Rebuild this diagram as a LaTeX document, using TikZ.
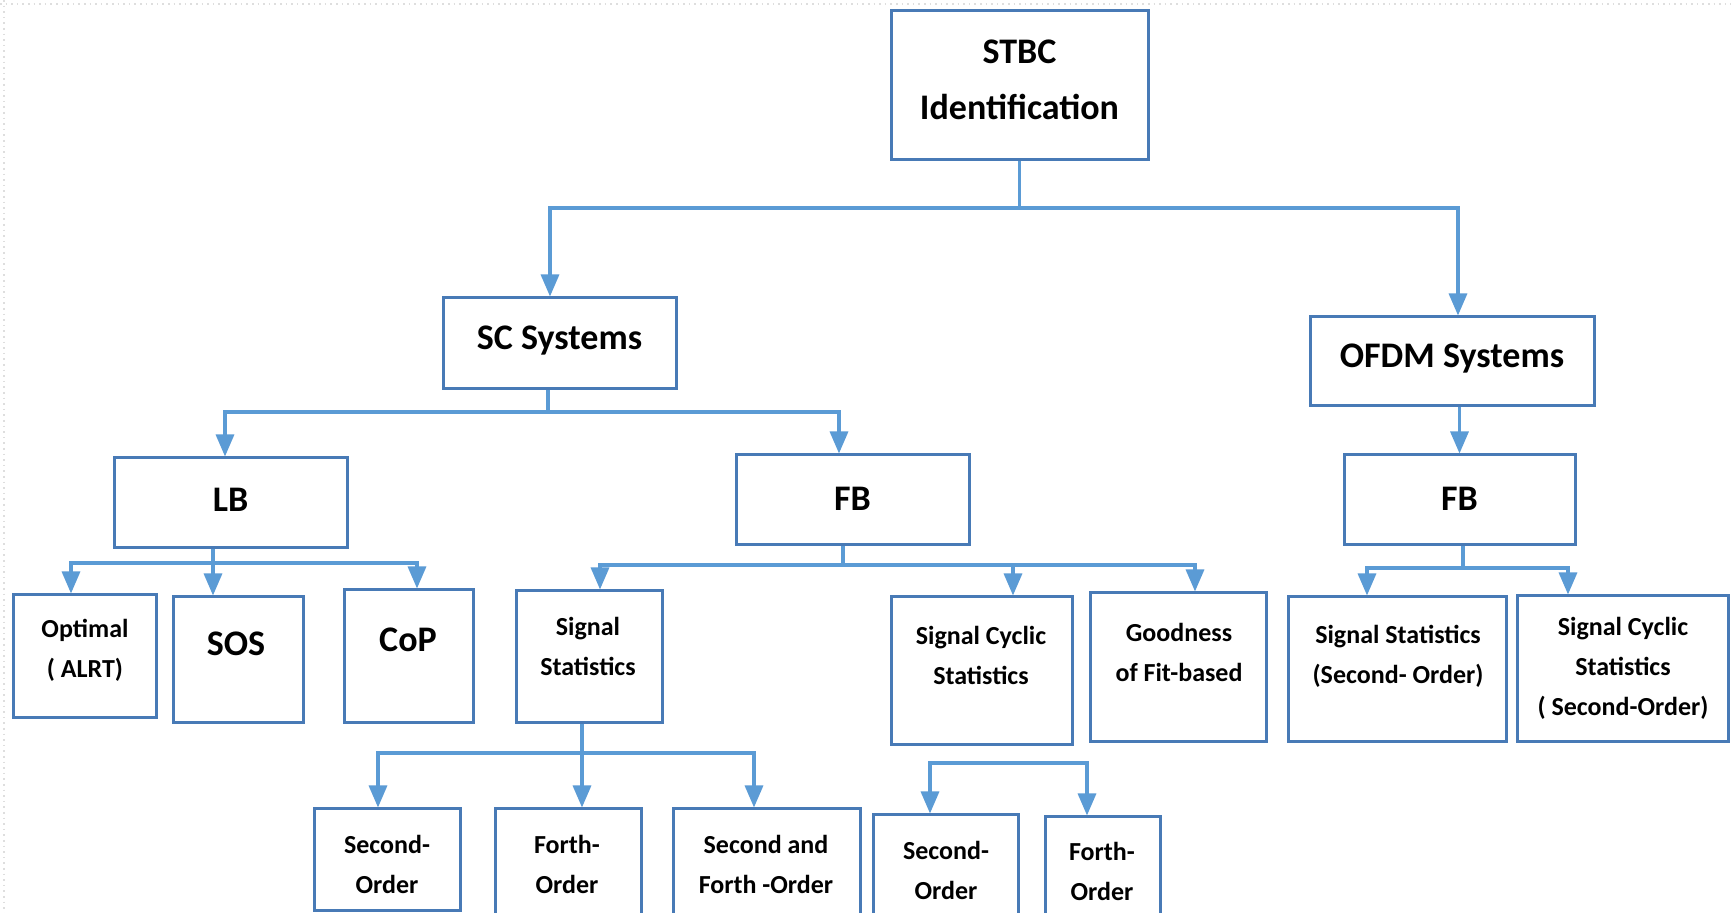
\documentclass[tikz,border=0pt]{standalone}
\usepackage{fontspec}
\setmainfont{Carlito}
\usetikzlibrary{arrows.meta}
\definecolor{boxc}{RGB}{72,122,182}
\definecolor{linec}{RGB}{91,155,213}
\definecolor{framec}{RGB}{222,222,222}
\tikzset{
  box/.style={draw=boxc, line width=1.5pt, inner sep=0pt},
  ln/.style={draw=linec, line width=1.6pt},
  ar/.style={ln, -{Triangle[width=9pt,length=11pt]}},
  big/.style={font=\fontsize{18}{28}\selectfont\bfseries, align=center, inner sep=0pt},
  sm/.style={font=\fontsize{13}{20}\selectfont\bfseries, align=center, inner sep=0pt},
}
\begin{document}
\begin{tikzpicture}[x=0.5pt, y=-0.5pt]
\useasboundingbox (0,0) rectangle (1731,913);
\fill[white] (0,0) rectangle (1731,913);
\draw[framec, line width=0.8pt, dotted] (0,4) -- (1731,4);
\draw[framec, line width=0.8pt, dotted] (4,0) -- (4,913);

% boxes
\node[box, minimum width=128.5pt, minimum height=74.5pt] (stbc) at (1019.5,85.5) {};
\node[box, minimum width=116.5pt, minimum height=45.5pt] (sc) at (559.5,343.5) {};
\node[box, minimum width=142pt, minimum height=44.5pt] (ofdm) at (1452,361.5) {};
\node[box, minimum width=116.5pt, minimum height=45pt] (lb) at (230.5,503) {};
\node[box, minimum width=116.5pt, minimum height=45pt] (fb1) at (852.5,500) {};
\node[box, minimum width=115.5pt, minimum height=45pt] (fb2) at (1459.5,500) {};
\node[box, minimum width=71.5pt, minimum height=61.5pt] (opt) at (84.5,656.5) {};
\node[box, minimum width=65pt, minimum height=63pt] (sos) at (238,660) {};
\node[box, minimum width=64.5pt, minimum height=66.5pt] (cop) at (408.5,656.5) {};
\node[box, minimum width=73pt, minimum height=66pt] (sst) at (589,657) {};
\node[box, minimum width=90.5pt, minimum height=74pt] (scs) at (981.5,671) {};
\node[box, minimum width=88pt, minimum height=74.5pt] (gof) at (1178,667.5) {};
\node[box, minimum width=109pt, minimum height=72.5pt] (ss2) at (1397,669.5) {};
\node[box, minimum width=105.5pt, minimum height=73pt] (scs2) at (1622.5,669) {};
\node[box, minimum width=73pt, minimum height=51pt] (so1) at (387,860) {};
\node[box, minimum width=73pt, minimum height=60.5pt] (fo1) at (568,869.5) {};
\node[box, minimum width=93.5pt, minimum height=60.5pt] (sfo) at (766.5,869.5) {};
\node[box, minimum width=72.5pt, minimum height=57.5pt] (so2) at (945.5,872.5) {};
\node[box, minimum width=57.5pt, minimum height=56.5pt] (fo2) at (1102.5,873.5) {};

% texts
\node[big] (t-stbc) at (1019.5,80) {STBC\\Identification};
\node[big] (t-sc) at (559.5,341) {SC Systems};
\node[big] (t-ofdm) at (1452,359) {OFDM Systems};
\node[big] (t-lb) at (230.5,500) {LB};
\node[big] (t-fb1) at (852.5,499) {FB};
\node[big] (t-fb2) at (1459.5,499) {FB};
\node[sm] (t-opt) at (85,650) {Optimal\\( ALRT)};
\node[big] (t-sos) at (236,644) {SOS};
\node[big] (t-cop) at (408,640) {CoP};
\node[sm] (t-sst) at (588,646) {Signal\\Statistics};
\node[sm] (t-scs) at (981,655) {Signal Cyclic\\Statistics};
\node[sm] (t-gof) at (1179,652) {Goodness\\of Fit-based};
\node[sm] (t-ss2) at (1398,656) {Signal Statistics\\(Second- Order)};
\node[sm] (t-scs2) at (1623,668) {Signal Cyclic\\Statistics\\( Second-Order)};
\node[sm] (t-so1) at (387,864) {Second-\\Order};
\node[sm] (t-fo1) at (567,864) {Forth-\\Order};
\node[sm] (t-sfo) at (766,864) {Second and\\Forth -Order};
\node[sm] (t-so2) at (946,870) {Second-\\Order};
\node[sm] (t-fo2) at (1102,871) {Forth-\\Order};

% junction points
\coordinate (j0a) at (550,208);
\coordinate (j0b) at (1458,208);
\coordinate (j1) at (548,412);
\coordinate (j1a) at (225,412);
\coordinate (j1b) at (839,412);
\coordinate (j2) at (213,563);
\coordinate (j2a) at (71,563);
\coordinate (j2b) at (417,563);
\coordinate (j3) at (843,565);
\coordinate (j3a) at (600,565);
\coordinate (j3b) at (1013,565);
\coordinate (j3c) at (1195,565);
\coordinate (j4) at (1463,568);
\coordinate (j4a) at (1367,568);
\coordinate (j4b) at (1568,568);
\coordinate (j5) at (582,753);
\coordinate (j5a) at (378,753);
\coordinate (j5b) at (754,753);
\coordinate (j6a) at (930,763);
\coordinate (j6b) at (1087,763);

% connectors
\draw[ar] (stbc.south) |- (j0a) -- (j0a |- sc.north);
\draw[ar] (stbc.south) |- (j0b) -- (j0b |- ofdm.north);

\draw[ar] (j1 |- sc.south) -- (j1) -- (j1a) -- (j1a |- lb.north);
\draw[ar] (j1) -- (j1b) -- (j1b |- fb1.north);

\draw[ar] (fb2.north |- ofdm.south) -- (fb2.north);

\draw[ar] (j2 |- lb.south) -- (j2) -- (j2a) -- (j2a |- opt.north);
\draw[ar] (j2) -- (j2 |- sos.north);
\draw[ar] (j2) -- (j2b) -- (j2b |- cop.north);

\draw[ar] (j3 |- fb1.south) -- (j3) -- (j3a) -- (j3a |- sst.north);
\draw[ar] (j3) -- (j3b) -- (j3b |- scs.north);
\draw[ar] (j3b) -- (j3c) -- (j3c |- gof.north);

\draw[ar] (j4 |- fb2.south) -- (j4) -- (j4a) -- (j4a |- ss2.north);
\draw[ar] (j4) -- (j4b) -- (j4b |- scs2.north);

\draw[ar] (j5 |- sst.south) -- (j5) -- (j5a) -- (j5a |- so1.north);
\draw[ar] (j5) -- (j5 |- fo1.north);
\draw[ar] (j5) -- (j5b) -- (j5b |- sfo.north);

\draw[ar] (j6b) -- (j6a) -- (j6a |- so2.north);
\draw[ar] (j6a) -- (j6b) -- (j6b |- fo2.north);
\end{tikzpicture}
\end{document}
